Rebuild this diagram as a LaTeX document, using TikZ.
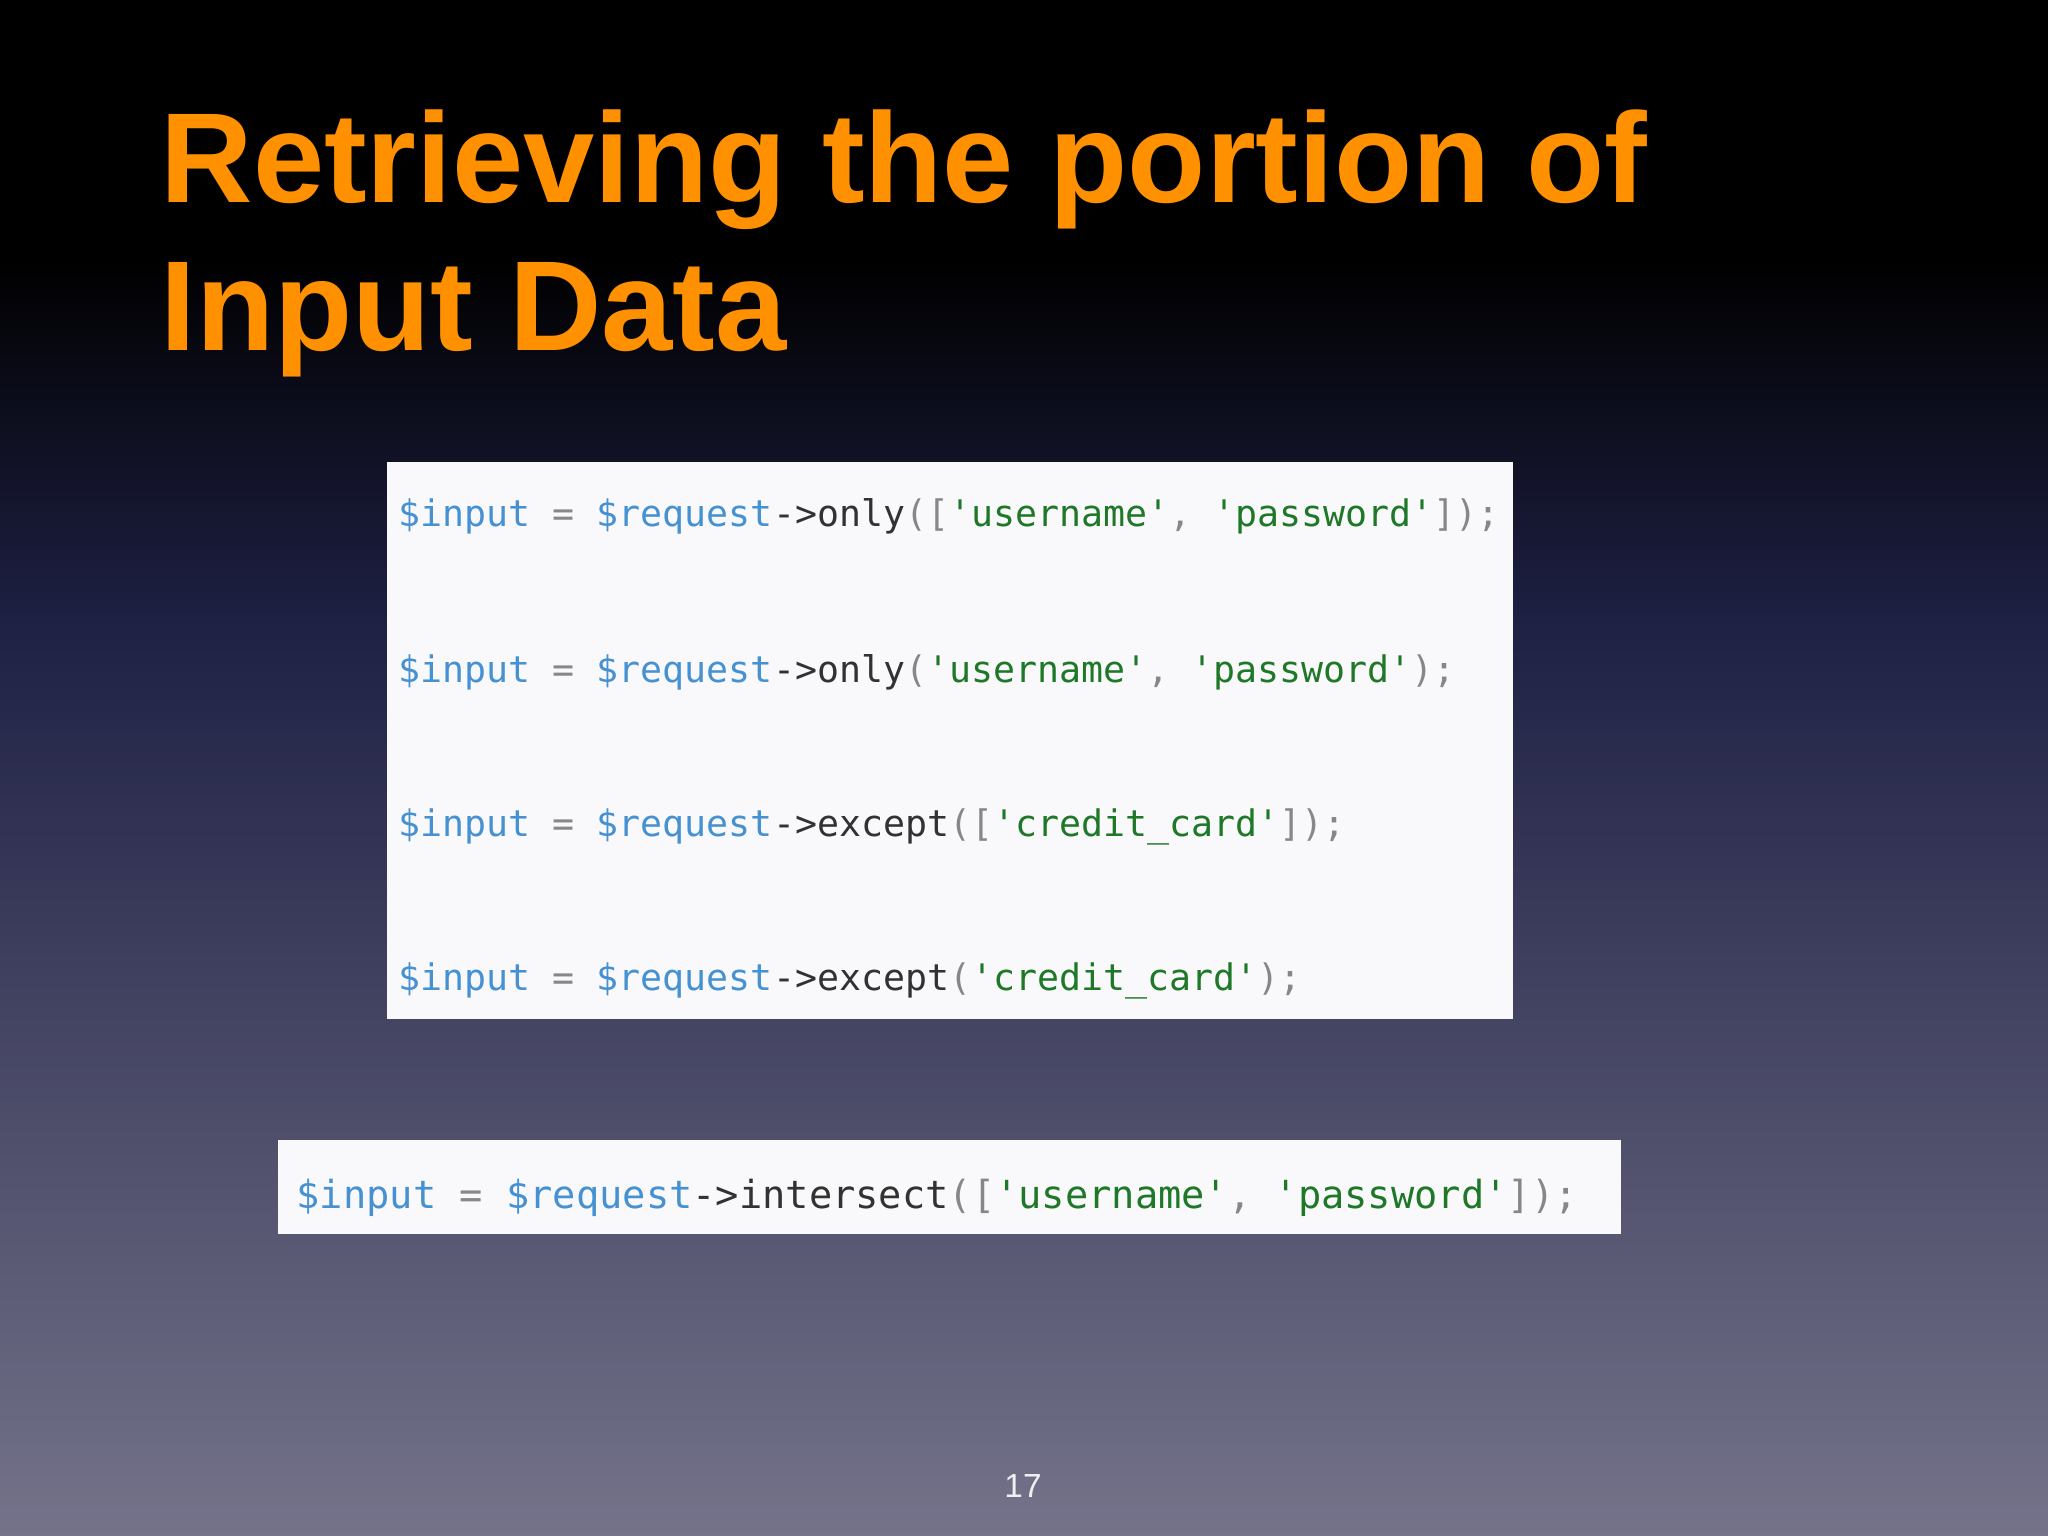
\documentclass[tikz,border=0pt]{standalone}
\usepackage{fontspec}
\setmainfont{Liberation Sans}
\newfontfamily\codefont{DejaVu Sans Mono}
\definecolor{bgbot}{RGB}{116,115,138}
\definecolor{bgmid}{RGB}{30,32,68}
\definecolor{ttl}{RGB}{255,145,0}
\definecolor{cvar}{RGB}{70,145,210}
\definecolor{cstr}{RGB}{30,120,40}
\definecolor{cpun}{RGB}{135,135,135}
\definecolor{ctxt}{RGB}{50,50,50}
\definecolor{boxbg}{RGB}{249,249,251}
\newcommand{\qq}{\char39}
\newcommand{\V}[1]{\textcolor{cvar}{#1}}
\newcommand{\Sx}[1]{\textcolor{cstr}{\qq#1\qq}}
\newcommand{\Px}[1]{\textcolor{cpun}{#1}}
\newcommand{\Tx}[1]{\textcolor{ctxt}{#1}}
\tikzset{codeline/.style={anchor=base west,inner sep=0pt,font=\codefont\fontsize{10.4pt}{12pt}\selectfont},
codebig/.style={anchor=base west,inner sep=0pt,font=\codefont\fontsize{11pt}{13pt}\selectfont},
ttlline/.style={anchor=base west,inner sep=0pt,text=ttl,font=\bfseries\fontsize{36.4pt}{40pt}\selectfont}}
\begin{document}
\begin{tikzpicture}[x=0.01cm,y=-0.01cm]
\useasboundingbox (0,0) rectangle (2048,1536);
\fill[black] (0,0) rectangle (2048,260);
\shade[top color=black,bottom color=bgmid] (0,259) rectangle (2048,620);
\shade[top color=bgmid,bottom color=bgbot] (0,619) rectangle (2048,1536);
\node[ttlline] (t1) at (160,202) {Retrieving the portion of};
\node[ttlline] (t2) at (160,350) {Input Data};
\fill[boxbg] (387,462) rectangle (1513,1019);
\node[codeline] (c1) at (398,526) {\V{\$input} \Px{=} \V{\$request}\Tx{->only}\Px{([}\Sx{username}\Px{,} \Sx{password}\Px{]);}};
\node[codeline] (c2) at (398,682) {\V{\$input} \Px{=} \V{\$request}\Tx{->only}\Px{(}\Sx{username}\Px{,} \Sx{password}\Px{);}};
\node[codeline] (c3) at (398,836) {\V{\$input} \Px{=} \V{\$request}\Tx{->except}\Px{([}\Sx{credit\_card}\Px{]);}};
\node[codeline] (c4) at (398,990) {\V{\$input} \Px{=} \V{\$request}\Tx{->except}\Px{(}\Sx{credit\_card}\Px{);}};
\fill[boxbg] (278,1140) rectangle (1621,1234);
\node[codebig] (c5) at (296,1208) {\V{\$input} \Px{=} \V{\$request}\Tx{->intersect}\Px{([}\Sx{username}\Px{,} \Sx{password}\Px{]);}};
\node[anchor=base,inner sep=0pt,text=white!88!gray,font=\fontsize{9.5pt}{11pt}\selectfont] (pg) at (1023,1497) {17};
\end{tikzpicture}
\end{document}
